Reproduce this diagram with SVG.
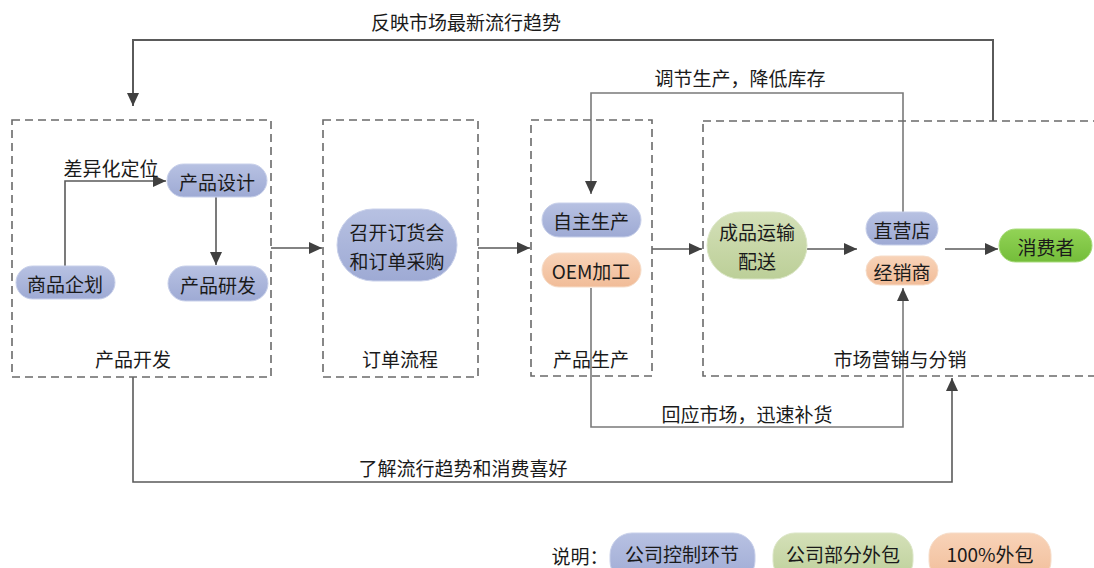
<svg xmlns="http://www.w3.org/2000/svg" width="1094" height="568" viewBox="0 0 1094 568">
<style>
text{font-family:"Noto Sans CJK SC","Liberation Sans",sans-serif;font-size:19px;fill:#1a1a1a}
.c{text-anchor:middle;dominant-baseline:central}
.box{fill:none;stroke:#6a6a6a;stroke-width:1.6;stroke-dasharray:8 5}
.ln{fill:none;stroke:#5a5a5a;stroke-width:1.6}
.fb{fill:none;stroke:#7a7a7a;stroke-width:1.6}
.blue{fill:url(#gb);stroke:#c8d0ea;stroke-width:1}
.green{fill:url(#gg);stroke:#dbe6c6;stroke-width:1}
.orange{fill:url(#go);stroke:#f6dcc8;stroke-width:1}
.lime{fill:url(#gl);stroke:#a8db7c;stroke-width:1}
</style>
<defs>
<linearGradient id="gb" x1="0" y1="0" x2="0" y2="1"><stop offset="0" stop-color="#b7c1e2"/><stop offset="1" stop-color="#9eaad4"/></linearGradient>
<linearGradient id="gg" x1="0" y1="0" x2="0" y2="1"><stop offset="0" stop-color="#d4e0b8"/><stop offset="1" stop-color="#bccf98"/></linearGradient>
<linearGradient id="go" x1="0" y1="0" x2="0" y2="1"><stop offset="0" stop-color="#f8d3b8"/><stop offset="1" stop-color="#f1bc98"/></linearGradient>
<linearGradient id="gl" x1="0" y1="0" x2="0" y2="1"><stop offset="0" stop-color="#92d356"/><stop offset="1" stop-color="#74bd3a"/></linearGradient>
<marker id="ar" markerUnits="userSpaceOnUse" markerWidth="14" markerHeight="12" refX="13" refY="6" orient="auto"><path d="M0,0 L13,6 L0,12 z" fill="#404040"/></marker>
</defs>

<g id="connectors">
<polyline class="ln" style="stroke-width:2" points="993,121 993,40 133,40 133,106" marker-end="url(#ar)"/>
<text class="c" x="466" y="21">反映市场最新流行趋势</text>
<polyline class="fb" points="903,212 903,93 591,93 591,194" marker-end="url(#ar)"/>
<text class="c" x="740" y="77">调节生产，降低库存</text>
<polyline class="fb" points="591,288 591,427 903,427 903,288" marker-end="url(#ar)"/>
<text class="c" x="747" y="413">回应市场，迅速补货</text>
<polyline class="ln" points="133,377 133,482 952,482 952,378" marker-end="url(#ar)"/>
<text class="c" x="463" y="467">了解流行趋势和消费喜好</text>
<polyline class="ln" points="65,266 65,181 166,181" marker-end="url(#ar)"/>
<text class="c" x="111" y="167">差异化定位</text>
<line class="ln" x1="216" y1="197" x2="216" y2="265" marker-end="url(#ar)"/>
<line class="ln" x1="271" y1="248" x2="322" y2="248" marker-end="url(#ar)"/>
<line class="ln" x1="478" y1="248" x2="530" y2="248" marker-end="url(#ar)"/>
<line class="ln" x1="652" y1="249" x2="702" y2="249" marker-end="url(#ar)"/>
<line class="ln" x1="807" y1="249" x2="857" y2="249" marker-end="url(#ar)"/>
<line class="ln" x1="945" y1="249" x2="998" y2="249" marker-end="url(#ar)"/>
</g>

<g id="product-dev">
<rect class="box" x="12" y="120" width="259" height="257"/>
<text class="c" x="133" y="358">产品开发</text>
</g>
<g id="n-design"><rect class="blue" x="167" y="164" width="100" height="33" rx="16.5"/><text class="c" x="217" y="181">产品设计</text></g>
<g id="n-rd"><rect class="blue" x="168" y="266" width="100" height="35" rx="17.5"/><text class="c" x="218" y="284">产品研发</text></g>
<g id="n-plan"><rect class="blue" x="16" y="266" width="99" height="33" rx="16.5"/><text class="c" x="65" y="283">商品企划</text></g>

<g id="order-flow">
<rect class="box" x="323" y="120" width="155" height="257"/>
<text class="c" x="400" y="358">订单流程</text>
</g>
<g id="n-order"><rect class="blue" x="337" y="209" width="120" height="72" rx="36"/><text class="c" x="397" y="231">召开订货会</text><text class="c" x="397" y="260">和订单采购</text></g>

<g id="production">
<rect class="box" x="531" y="120" width="121" height="256"/>
<text class="c" x="591" y="358">产品生产</text>
</g>
<g id="n-self"><rect class="blue" x="542" y="203" width="99" height="34" rx="17"/><text class="c" x="591" y="220">自主生产</text></g>
<g id="n-oem"><rect class="orange" x="542" y="253" width="99" height="34" rx="17"/><text class="c" x="591" y="270">OEM加工</text></g>

<g id="marketing">
<rect class="box" x="703" y="121" width="420" height="255"/>
<text class="c" x="900" y="358">市场营销与分销</text>
</g>
<g id="n-ship"><rect class="green" x="707" y="212" width="100" height="67" rx="33.5"/><text class="c" x="757" y="231">成品运输</text><text class="c" x="757" y="260">配送</text></g>
<g id="n-direct"><rect class="blue" x="866" y="212" width="72" height="33" rx="16.5"/><text class="c" x="902" y="229">直营店</text></g>
<g id="n-dealer"><rect class="orange" x="866" y="256" width="72" height="29" rx="14.5"/><text class="c" x="902" y="271">经销商</text></g>
<g id="n-consumer"><rect class="lime" x="999" y="229" width="93" height="33" rx="16.5"/><text class="c" x="1046" y="246">消费者</text></g>

<g id="legend">
<text class="c" x="580" y="555">说明：</text>
<rect class="blue" x="610" y="533" width="145" height="50" rx="22"/><text class="c" x="682" y="553">公司控制环节</text>
<rect class="green" x="773" y="533" width="140" height="50" rx="22"/><text class="c" x="843" y="553">公司部分外包</text>
<rect class="orange" x="929" y="533" width="122" height="50" rx="22"/><text class="c" x="990" y="553">100%外包</text>
</g>
</svg>
